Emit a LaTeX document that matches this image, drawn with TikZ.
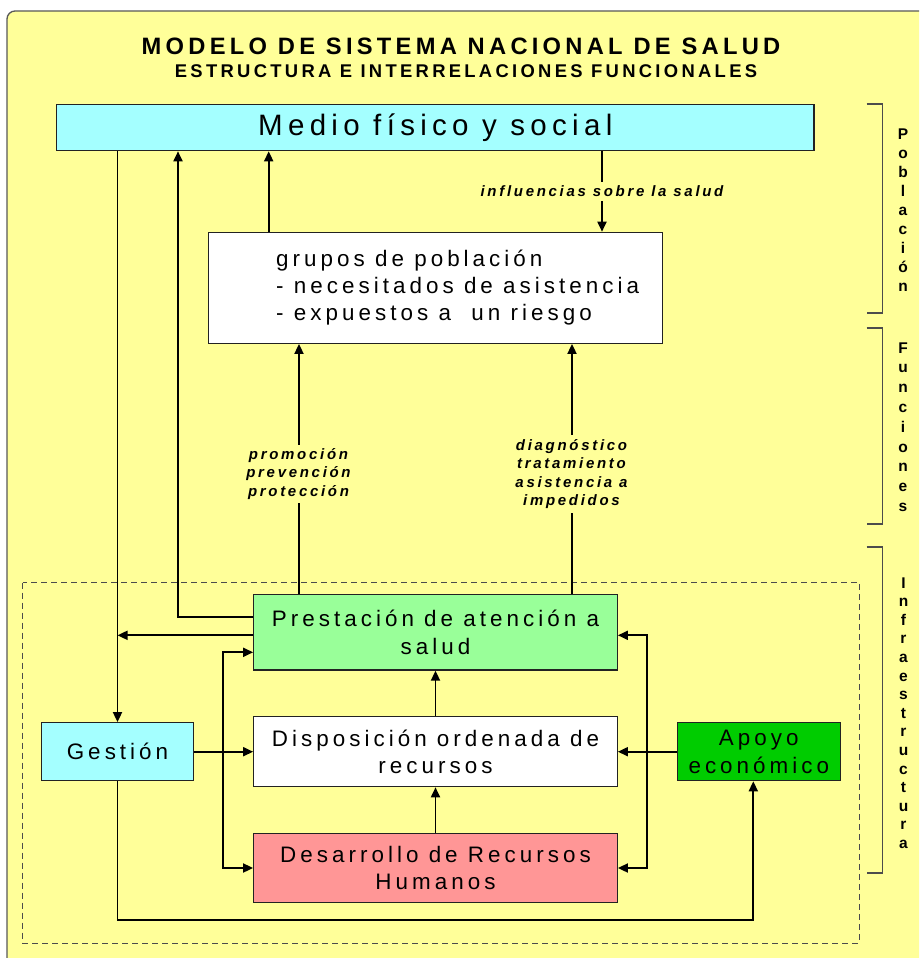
\documentclass[tikz,border=0pt]{standalone}
\usepackage{fontspec}
\setmainfont{Liberation Sans}
\newfontfamily\ls{Liberation Sans}[LetterSpace=18]
\usetikzlibrary{arrows.meta}
\definecolor{bgy}{RGB}{255,255,153}
\definecolor{cy}{RGB}{164,255,255}
\definecolor{gr}{RGB}{153,255,153}
\definecolor{rd}{RGB}{255,150,150}
\definecolor{dg}{RGB}{0,204,0}
\definecolor{edge}{RGB}{34,34,34}
\tikzset{
  box/.style={draw=edge, line width=1.2pt, inner sep=0pt, rectangle, align=center,
    font=\ls\fontsize{22.4}{27.4}\selectfont},
  arr/.style={line width=1.8pt, -{Triangle[length=10pt,width=9pt]}},
  arrb/.style={line width=1.8pt, {Triangle[length=10pt,width=9pt]}-{Triangle[length=10pt,width=9pt]}},
  lbl/.style={fill=bgy, inner xsep=2pt, inner ysep=4pt, align=center,
    font=\ls\bfseries\itshape\fontsize{15}{18.3}\selectfont},
  brk/.style={draw=black!70, line width=1.2pt},
  side/.style={align=center, font=\bfseries\fontsize{15.5}{19}\selectfont, inner sep=0pt}
}
\begin{document}
\begin{tikzpicture}[x=1pt,y=-1pt]
\useasboundingbox (0,0) rectangle (919,958);
\clip (0,0) rectangle (919,958);
\fill[white] (0,0) rectangle (919,958);
\draw[fill=bgy, draw=black!65, line width=1.3pt, rounded corners=8pt] (7,11) rectangle (940,980);

% titles
\node[font=\ls\bfseries\fontsize{23.7}{28}\selectfont] (t1) at (461,46) {MODELO DE SISTEMA NACIONAL DE SALUD};
\node[font=\ls\bfseries\fontsize{18.4}{20}\selectfont] (t2) at (466,71) {ESTRUCTURA E INTERRELACIONES FUNCIONALES};

% dashed infrastructure frame
\draw[black!70, line width=1pt, dash pattern=on 6pt off 4pt] (22.7,582.7) rectangle (859.3,943);

% boxes
\node[box, fill=cy, minimum width=757.3pt, minimum height=46.4pt, font=\ls\fontsize{29.5}{32}\selectfont] (medio) at (435.3,127.5) {Medio físico y social};
\node[box, fill=white, minimum width=454.4pt, minimum height=111pt] (grupos) at (435.5,287.8) {};
\node[anchor=west, align=left, inner sep=0pt, font=\ls\fontsize{22.4}{27.4}\selectfont] (gtext) at (276,287.5) {grupos de población\\- necesitados de asistencia\\- expuestos a \ un riesgo};
\node[box, fill=gr, minimum width=363.6pt, minimum height=75.7pt] (prest) at (435.5,632.2) {Prestación de atención a\\salud};
\node[box, fill=white, minimum width=363.6pt, minimum height=70pt] (disp) at (435.5,751.7) {Disposición ordenada de\\recursos};
\node[box, fill=rd, minimum width=363.6pt, minimum height=69.4pt] (desa) at (435.5,868) {Desarrollo de Recursos\\Humanos};
\node[box, fill=cy, minimum width=151.6pt, minimum height=58pt] (gestion) at (117.5,751.7) {Gestión};
\node[box, fill=dg, minimum width=163pt, minimum height=58pt] (apoyo) at (758.8,751.7) {Apoyo\\económico};

% connectors
\draw[arr] (medio.south -| gestion.north) -- (gestion.north);
\draw[arr] (prest.west |- 0,617.3) -| (medio.south -| 178,0);
\draw[arr] (prest.west |- 0,635.3) -- (gestion.north |- 0,635.3);
\draw[arr] (grupos.north -| 268.7,0) -- (medio.south -| 268.7,0);
\draw[arr] (medio.south -| 602,0) -- (grupos.north -| 602,0);
\draw[arr] (prest.north -| 299,0) -- (grupos.south -| 299,0);
\draw[arr] (prest.north -| 572,0) -- (grupos.south -| 572,0);
\draw[arr] (disp.north) -- (prest.south);
\draw[arr] (desa.north) -- (disp.south);
\draw[arr] (gestion.east) -- (disp.west);
\draw[arr] (apoyo.west) -- (disp.east);
\draw[arrb] (prest.west |- 0,652.3) -| (223.3,760) |- (desa.west);
\draw[arrb] (prest.east |- 0,635.3) -| (647.3,760) |- (desa.east);
\draw[arr] (gestion.south) |- (753.3,920) -- (apoyo.south -| 753.3,0);

% labels
\node[lbl] (linf) at (602,191.5) {influencias sobre la salud};
\node[lbl] (lpro) at (298.5,474) {promoción\\prevención\\protección};
\node[lbl] (ldia) at (571.5,474) {diagnóstico\\tratamiento\\asistencia a\\impedidos};

% side brackets
\draw[brk] (866.7,104) -- (882.3,104) -- (882.3,313) -- (866.7,313);
\draw[brk] (866.7,328) -- (882.3,328) -- (882.3,524) -- (866.7,524);
\draw[brk] (866.7,547) -- (882.3,547) -- (882.3,873) -- (866.7,873);
\node[side] (spob) at (903,210.5) {P\\o\\b\\l\\a\\c\\i\\ó\\n};
\node[side, font=\bfseries\fontsize{15.5}{19.8}\selectfont] (sfun) at (903,427) {F\\u\\n\\c\\i\\o\\n\\e\\s};
\node[side, font=\bfseries\fontsize{15.5}{18.6}\selectfont] (sinf) at (903.5,713) {I\\n\\f\\r\\a\\e\\s\\t\\r\\u\\c\\t\\u\\r\\a};
\end{tikzpicture}
\end{document}
